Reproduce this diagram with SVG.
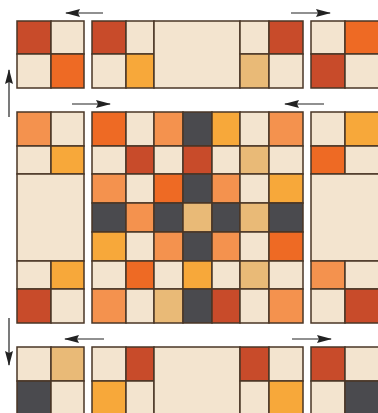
<svg xmlns="http://www.w3.org/2000/svg" width="378" height="413" viewBox="0 0 378 413">
<style>
rect{stroke:#4a3626;stroke-width:1.5}
.cr{fill:#f3e4cf}.dr{fill:#c84b2a}.or{fill:#ee6a24}.lo{fill:#f4924e}.ye{fill:#f7a83a}.tn{fill:#e9ba77}.gy{fill:#4a4a4e}
.arr{stroke:#222;stroke-width:1.2;fill:none}
</style>
<defs>
<marker id="ah" viewBox="0 0 15 8" refX="14" refY="4" markerWidth="15" markerHeight="8" markerUnits="userSpaceOnUse" orient="auto">
<path d="M0,0 L15,4 L0,8 L2,4 Z" fill="#222"/>
</marker>
</defs>

<g id="top-left">
<rect class="dr" x="17" y="21" width="34" height="33"/><rect class="cr" x="51" y="21" width="33" height="33"/>
<rect class="cr" x="17" y="54" width="34" height="34"/><rect class="or" x="51" y="54" width="33" height="34"/>
</g>
<g id="top-center">
<rect class="dr" x="92" y="21" width="34" height="33"/><rect class="cr" x="126" y="21" width="28" height="33"/>
<rect class="cr" x="92" y="54" width="34" height="34"/><rect class="ye" x="126" y="54" width="28" height="34"/>
<rect class="cr" x="154" y="21" width="86" height="67"/>
<rect class="cr" x="240" y="21" width="29" height="33"/><rect class="dr" x="269" y="21" width="34" height="33"/>
<rect class="tn" x="240" y="54" width="29" height="34"/><rect class="cr" x="269" y="54" width="34" height="34"/>
</g>
<g id="top-right">
<rect class="cr" x="311" y="21" width="34" height="33"/><rect class="or" x="345" y="21" width="34" height="33"/>
<rect class="dr" x="311" y="54" width="34" height="34"/><rect class="cr" x="345" y="54" width="34" height="34"/>
</g>

<g id="mid-left">
<rect class="lo" x="17" y="112" width="34" height="34"/><rect class="cr" x="51" y="112" width="33" height="34"/>
<rect class="cr" x="17" y="146" width="34" height="28"/><rect class="ye" x="51" y="146" width="33" height="28"/>
<rect class="cr" x="17" y="174" width="67" height="87"/>
<rect class="cr" x="17" y="261" width="34" height="28"/><rect class="ye" x="51" y="261" width="33" height="28"/>
<rect class="dr" x="17" y="289" width="34" height="34"/><rect class="cr" x="51" y="289" width="33" height="34"/>
</g>

<g id="mid-center">
<rect class="or" x="92" y="112" width="34" height="34"/><rect class="cr" x="126" y="112" width="28" height="34"/><rect class="lo" x="154" y="112" width="29" height="34"/><rect class="gy" x="183" y="112" width="29" height="34"/><rect class="ye" x="212" y="112" width="28" height="34"/><rect class="cr" x="240" y="112" width="29" height="34"/><rect class="lo" x="269" y="112" width="34" height="34"/>
<rect class="cr" x="92" y="146" width="34" height="28"/><rect class="dr" x="126" y="146" width="28" height="28"/><rect class="cr" x="154" y="146" width="29" height="28"/><rect class="dr" x="183" y="146" width="29" height="28"/><rect class="cr" x="212" y="146" width="28" height="28"/><rect class="tn" x="240" y="146" width="29" height="28"/><rect class="cr" x="269" y="146" width="34" height="28"/>
<rect class="lo" x="92" y="174" width="34" height="29"/><rect class="cr" x="126" y="174" width="28" height="29"/><rect class="or" x="154" y="174" width="29" height="29"/><rect class="gy" x="183" y="174" width="29" height="29"/><rect class="lo" x="212" y="174" width="28" height="29"/><rect class="cr" x="240" y="174" width="29" height="29"/><rect class="ye" x="269" y="174" width="34" height="29"/>
<rect class="gy" x="92" y="203" width="34" height="29"/><rect class="lo" x="126" y="203" width="28" height="29"/><rect class="gy" x="154" y="203" width="29" height="29"/><rect class="tn" x="183" y="203" width="29" height="29"/><rect class="gy" x="212" y="203" width="28" height="29"/><rect class="tn" x="240" y="203" width="29" height="29"/><rect class="gy" x="269" y="203" width="34" height="29"/>
<rect class="ye" x="92" y="232" width="34" height="29"/><rect class="cr" x="126" y="232" width="28" height="29"/><rect class="lo" x="154" y="232" width="29" height="29"/><rect class="gy" x="183" y="232" width="29" height="29"/><rect class="lo" x="212" y="232" width="28" height="29"/><rect class="cr" x="240" y="232" width="29" height="29"/><rect class="or" x="269" y="232" width="34" height="29"/>
<rect class="cr" x="92" y="261" width="34" height="28"/><rect class="or" x="126" y="261" width="28" height="28"/><rect class="cr" x="154" y="261" width="29" height="28"/><rect class="ye" x="183" y="261" width="29" height="28"/><rect class="cr" x="212" y="261" width="28" height="28"/><rect class="tn" x="240" y="261" width="29" height="28"/><rect class="cr" x="269" y="261" width="34" height="28"/>
<rect class="lo" x="92" y="289" width="34" height="34"/><rect class="cr" x="126" y="289" width="28" height="34"/><rect class="tn" x="154" y="289" width="29" height="34"/><rect class="gy" x="183" y="289" width="29" height="34"/><rect class="dr" x="212" y="289" width="28" height="34"/><rect class="cr" x="240" y="289" width="29" height="34"/><rect class="lo" x="269" y="289" width="34" height="34"/>
</g>

<g id="mid-right">
<rect class="cr" x="311" y="112" width="34" height="34"/><rect class="ye" x="345" y="112" width="34" height="34"/>
<rect class="or" x="311" y="146" width="34" height="28"/><rect class="cr" x="345" y="146" width="34" height="28"/>
<rect class="cr" x="311" y="174" width="68" height="87"/>
<rect class="lo" x="311" y="261" width="34" height="28"/><rect class="cr" x="345" y="261" width="34" height="28"/>
<rect class="cr" x="311" y="289" width="34" height="34"/><rect class="dr" x="345" y="289" width="34" height="34"/>
</g>

<g id="bottom-left">
<rect class="cr" x="17" y="347" width="34" height="34"/><rect class="tn" x="51" y="347" width="33" height="34"/>
<rect class="gy" x="17" y="381" width="34" height="34"/><rect class="cr" x="51" y="381" width="33" height="34"/>
</g>
<g id="bottom-center">
<rect class="cr" x="92" y="347" width="34" height="34"/><rect class="dr" x="126" y="347" width="28" height="34"/>
<rect class="ye" x="92" y="381" width="34" height="34"/><rect class="cr" x="126" y="381" width="28" height="34"/>
<rect class="cr" x="154" y="347" width="86" height="68"/>
<rect class="dr" x="240" y="347" width="29" height="34"/><rect class="cr" x="269" y="347" width="34" height="34"/>
<rect class="cr" x="240" y="381" width="29" height="34"/><rect class="ye" x="269" y="381" width="34" height="34"/>
</g>
<g id="bottom-right">
<rect class="dr" x="311" y="347" width="34" height="34"/><rect class="cr" x="345" y="347" width="34" height="34"/>
<rect class="cr" x="311" y="381" width="34" height="34"/><rect class="gy" x="345" y="381" width="34" height="34"/>
</g>

<g id="connectors">
<line class="arr" x1="103" y1="13" x2="66" y2="13" marker-end="url(#ah)"/>
<line class="arr" x1="291" y1="13" x2="330" y2="13" marker-end="url(#ah)"/>
<line class="arr" x1="9" y1="117" x2="9" y2="70" marker-end="url(#ah)"/>
<line class="arr" x1="72" y1="104" x2="110" y2="104" marker-end="url(#ah)"/>
<line class="arr" x1="324" y1="104" x2="285" y2="104" marker-end="url(#ah)"/>
<line class="arr" x1="9" y1="318" x2="9" y2="365" marker-end="url(#ah)"/>
<line class="arr" x1="104" y1="339" x2="65" y2="339" marker-end="url(#ah)"/>
<line class="arr" x1="292" y1="339" x2="331" y2="339" marker-end="url(#ah)"/>
</g>
</svg>
